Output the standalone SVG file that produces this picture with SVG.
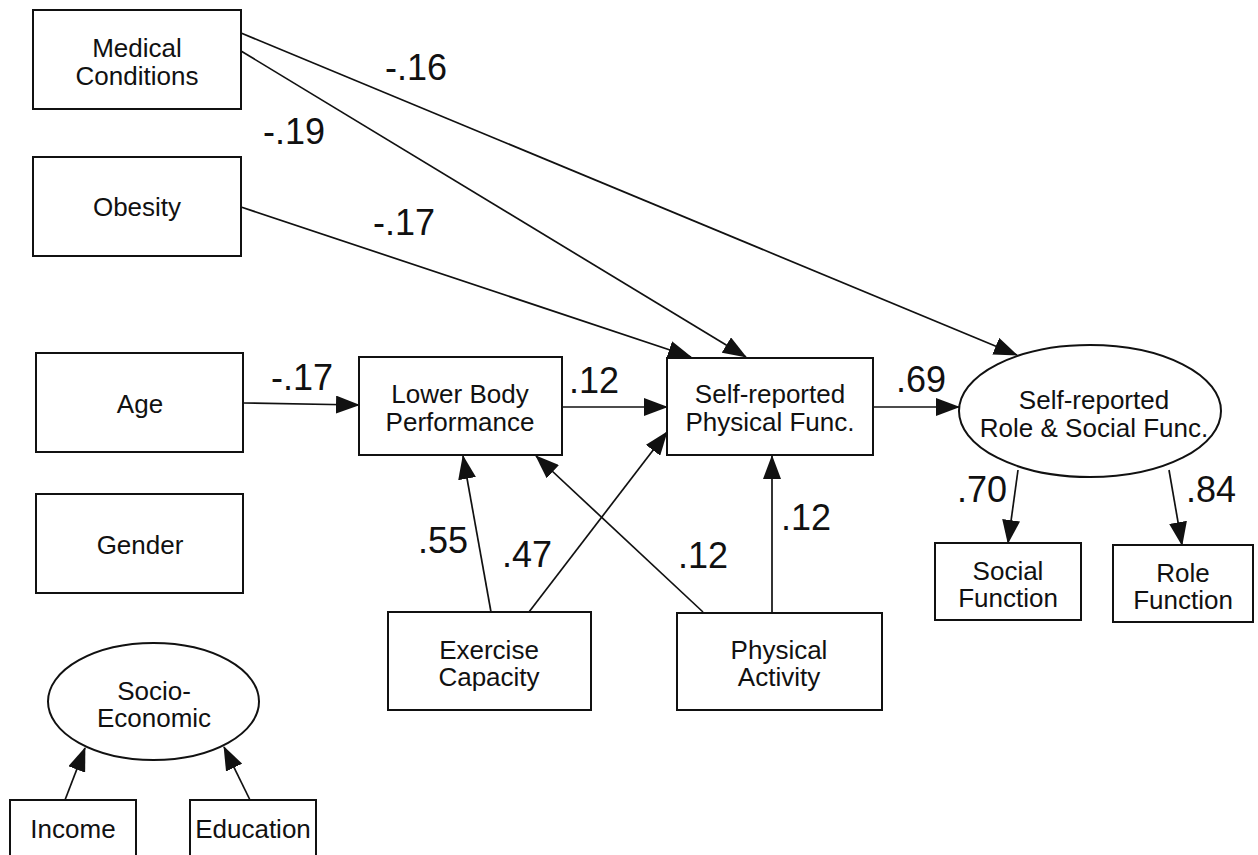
<svg xmlns="http://www.w3.org/2000/svg" width="1258" height="855" viewBox="0 0 1258 855">
  <style>
    .box { fill: #fff; stroke: #111; stroke-width: 2; }
    .lbl { font-family: "Liberation Sans", Arial, sans-serif; font-size: 26px; fill: #111; text-anchor: middle; }
    .coef { font-family: "Liberation Sans", Arial, sans-serif; font-size: 36px; fill: #111; text-anchor: middle; }
    .edge { fill: none; stroke: #111; stroke-width: 1.7; marker-end: url(#head); }
  </style>
  <defs>
    <marker id="head" markerUnits="userSpaceOnUse" markerWidth="24" markerHeight="18" refX="23" refY="9" orient="auto">
      <path d="M0,0 L24,9 L0,18 z" fill="#111"/>
    </marker>
  </defs>
  <rect width="1258" height="855" fill="#fff"/>

  <!-- path connectors -->
  <g id="connectors">
    <line class="edge" x1="241" y1="33" x2="1017" y2="355"/>
    <line class="edge" x1="241" y1="51" x2="746" y2="357"/>
    <line class="edge" x1="241" y1="207" x2="691" y2="357"/>
    <line class="edge" x1="243" y1="403" x2="359" y2="405"/>
    <line class="edge" x1="562" y1="407" x2="667" y2="407"/>
    <line class="edge" x1="873" y1="407" x2="959" y2="407"/>
    <line class="edge" x1="1018" y1="470" x2="1008" y2="543"/>
    <line class="edge" x1="1169" y1="470" x2="1182" y2="545"/>
    <line class="edge" x1="491" y1="612" x2="463" y2="456"/>
    <line class="edge" x1="529" y1="612" x2="667" y2="432"/>
    <line class="edge" x1="703" y1="612" x2="536" y2="456"/>
    <line class="edge" x1="772" y1="612" x2="772" y2="456"/>
    <line class="edge" x1="65" y1="800" x2="85" y2="748"/>
    <line class="edge" x1="250" y1="800" x2="224" y2="747"/>
  </g>

  <!-- path coefficients -->
  <g id="coefficients">
    <text class="coef" x="416" y="80">-.16</text>
    <text class="coef" x="294" y="144">-.19</text>
    <text class="coef" x="404" y="235">-.17</text>
    <text class="coef" x="302" y="390">-.17</text>
    <text class="coef" x="594" y="393">.12</text>
    <text class="coef" x="921" y="392">.69</text>
    <text class="coef" x="982" y="502">.70</text>
    <text class="coef" x="1211" y="502">.84</text>
    <text class="coef" x="443" y="553">.55</text>
    <text class="coef" x="527" y="567">.47</text>
    <text class="coef" x="703" y="568">.12</text>
    <text class="coef" x="806" y="530">.12</text>
  </g>

  <g id="medical-conditions">
    <rect class="box" x="33" y="10" width="208" height="99"/>
    <text class="lbl" x="137" y="57">Medical</text>
    <text class="lbl" x="137" y="85">Conditions</text>
  </g>
  <g id="obesity">
    <rect class="box" x="33" y="157" width="208" height="99"/>
    <text class="lbl" x="137" y="216">Obesity</text>
  </g>
  <g id="age">
    <rect class="box" x="36" y="353" width="207" height="99"/>
    <text class="lbl" x="140" y="413">Age</text>
  </g>
  <g id="gender">
    <rect class="box" x="36" y="494" width="207" height="99"/>
    <text class="lbl" x="140" y="554">Gender</text>
  </g>
  <g id="lower-body-performance">
    <rect class="box" x="359" y="357" width="203" height="98"/>
    <text class="lbl" x="460" y="403">Lower Body</text>
    <text class="lbl" x="460" y="431">Performance</text>
  </g>
  <g id="self-reported-physical">
    <rect class="box" x="667" y="358" width="206" height="97"/>
    <text class="lbl" x="770" y="403">Self-reported</text>
    <text class="lbl" x="770" y="431">Physical Func.</text>
  </g>
  <g id="role-social-latent">
    <ellipse class="box" cx="1090" cy="411" rx="131" ry="66"/>
    <text class="lbl" x="1094" y="409">Self-reported</text>
    <text class="lbl" x="1094" y="437">Role &amp; Social Func.</text>
  </g>
  <g id="social-function">
    <rect class="box" x="935" y="543" width="146" height="77"/>
    <text class="lbl" x="1008" y="580">Social</text>
    <text class="lbl" x="1008" y="607">Function</text>
  </g>
  <g id="role-function">
    <rect class="box" x="1113" y="545" width="140" height="77"/>
    <text class="lbl" x="1183" y="582">Role</text>
    <text class="lbl" x="1183" y="609">Function</text>
  </g>
  <g id="exercise-capacity">
    <rect class="box" x="388" y="612" width="203" height="98"/>
    <text class="lbl" x="489" y="659">Exercise</text>
    <text class="lbl" x="489" y="686">Capacity</text>
  </g>
  <g id="physical-activity">
    <rect class="box" x="677" y="613" width="205" height="97"/>
    <text class="lbl" x="779" y="659">Physical</text>
    <text class="lbl" x="779" y="686">Activity</text>
  </g>
  <g id="socio-economic">
    <ellipse class="box" cx="153.5" cy="701.5" rx="105.5" ry="58.5"/>
    <text class="lbl" x="154" y="700">Socio-</text>
    <text class="lbl" x="154" y="727">Economic</text>
  </g>
  <g id="income">
    <rect class="box" x="10" y="800" width="126" height="70"/>
    <text class="lbl" x="73" y="838">Income</text>
  </g>
  <g id="education">
    <rect class="box" x="190" y="800" width="126" height="70"/>
    <text class="lbl" x="253" y="838">Education</text>
  </g>
</svg>
